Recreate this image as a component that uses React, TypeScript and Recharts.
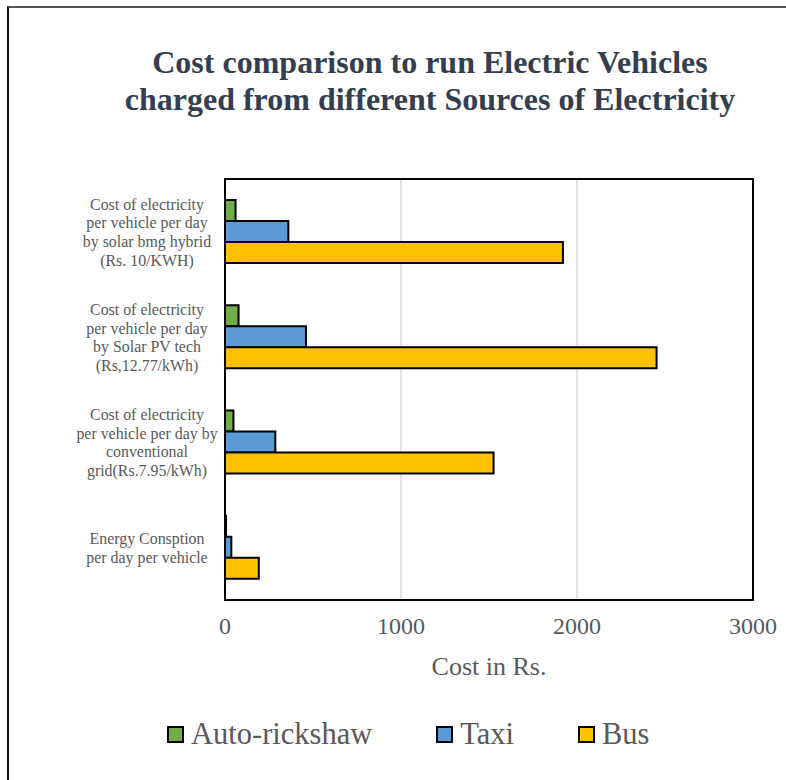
import React from 'react';
import { BarChart, Bar, XAxis, YAxis, CartesianGrid, Legend, ReferenceArea } from 'recharts';

// categories, top to bottom
const categories = [
  'Cost of electricity\nper vehicle per day\nby solar bmg hybrid\n(Rs. 10/KWH)',
  'Cost of electricity\nper vehicle per day\nby Solar PV tech\n(Rs,12.77/kWh)',
  'Cost of electricity\nper vehicle per day by\nconventional\ngrid(Rs.7.95/kWh)',
  'Energy Consption\nper day per vehicle',
];
const autoRickshaw = [60, 77, 48, 6];
const taxi = [360, 460, 286, 36];
const bus = [1920, 2452, 1526, 192];
const xTicks = [0, 1000, 2000, 3000];

const series = [
  { key: 'Auto-rickshaw', color: '#70AD47' },
  { key: 'Taxi', color: '#5B9BD5' },
  { key: 'Bus', color: '#FFC000' },
];

const data = categories.map((name, i) => ({
  name,
  'Auto-rickshaw': autoRickshaw[i],
  Taxi: taxi[i],
  Bus: bus[i],
}));

const FONT = '"Liberation Serif", "Times New Roman", serif';
const GRAY = '#595959';

const CategoryTick = (props: any) => {
  const { x, y, payload } = props;
  const lines: string[] = String(payload.value).split('\n');
  const lh = 18.7;
  const start = y - ((lines.length - 1) * lh) / 2;
  return (
    <text x={x - 70} y={start} textAnchor="middle" fill={GRAY} fontSize={15.9} fontFamily={FONT} dominantBaseline="central">
      {lines.map((l, i) => (
        <tspan key={i} x={x - 70} y={start + i * lh}>{l}</tspan>
      ))}
    </text>
  );
};

const LegendContent = () => (
  <div style={{ display: 'flex', alignItems: 'center', fontFamily: FONT, fontSize: 30.5, color: GRAY }}>
    {series.map((s) => (
      <div key={s.key} style={{ display: 'flex', alignItems: 'center', marginRight: 64 }}>
        <span style={{ display: 'inline-block', width: 13, height: 13, background: s.color, border: '2px solid #000', marginRight: 7 }} />
        <span>{s.key}</span>
      </div>
    ))}
  </div>
);

export default function App() {
  return (
    <div style={{ position: 'absolute', left: 0, top: 0, width: 786, height: 780, background: '#fff', overflow: 'hidden' }}>
      <div style={{ position: 'absolute', left: 7, top: 6, right: -4, bottom: -4, borderTop: '2px solid #555', borderLeft: '2px solid #111' }} />
      <div
        style={{
          position: 'absolute', left: 80, top: 44, width: 700, textAlign: 'center',
          fontFamily: FONT, fontWeight: 'bold', fontSize: 32, lineHeight: '37px', color: '#333F50',
        }}
      >
        Cost comparison to run Electric Vehicles
        <br />
        charged from different Sources of Electricity
      </div>
      <div style={{ position: 'absolute', left: 0, top: 0 }}>
        <BarChart
          width={786}
          height={780}
          data={data}
          layout="vertical"
          margin={{ top: 179, right: 33, left: 0, bottom: 100 }}
          barCategoryGap="20%"
          barGap={0}
        >
          <CartesianGrid horizontal={false} vertical stroke="#D9D9D9" strokeWidth={1.5} />
          <XAxis
            type="number"
            domain={[0, 3000]}
            ticks={xTicks}
            height={80}
            tickLine={false}
            axisLine={false}
            tickMargin={11}
            tick={{ fill: GRAY, fontSize: 24, fontFamily: FONT }}
            label={{ value: 'Cost in Rs.', position: 'insideBottom', offset: 5, fill: GRAY, fontSize: 26, fontFamily: FONT }}
          />
          <YAxis type="category" dataKey="name" width={225} tickLine={false} axisLine={false} tick={<CategoryTick />} interval={0} />
          {series.map((s) => (
            <Bar key={s.key} dataKey={s.key} fill={s.color} stroke="#000" strokeWidth={2} isAnimationActive={false} />
          ))}
          <ReferenceArea x1={0} x2={3000} fill="none" stroke="#000" strokeWidth={2} fillOpacity={0} ifOverflow="visible" />
          <Legend
            verticalAlign="middle"
            align="center"
            layout="horizontal"
            content={<LegendContent />}
            wrapperStyle={{ left: 167, top: 717, width: 620 }}
          />
        </BarChart>
      </div>
    </div>
  );
}
